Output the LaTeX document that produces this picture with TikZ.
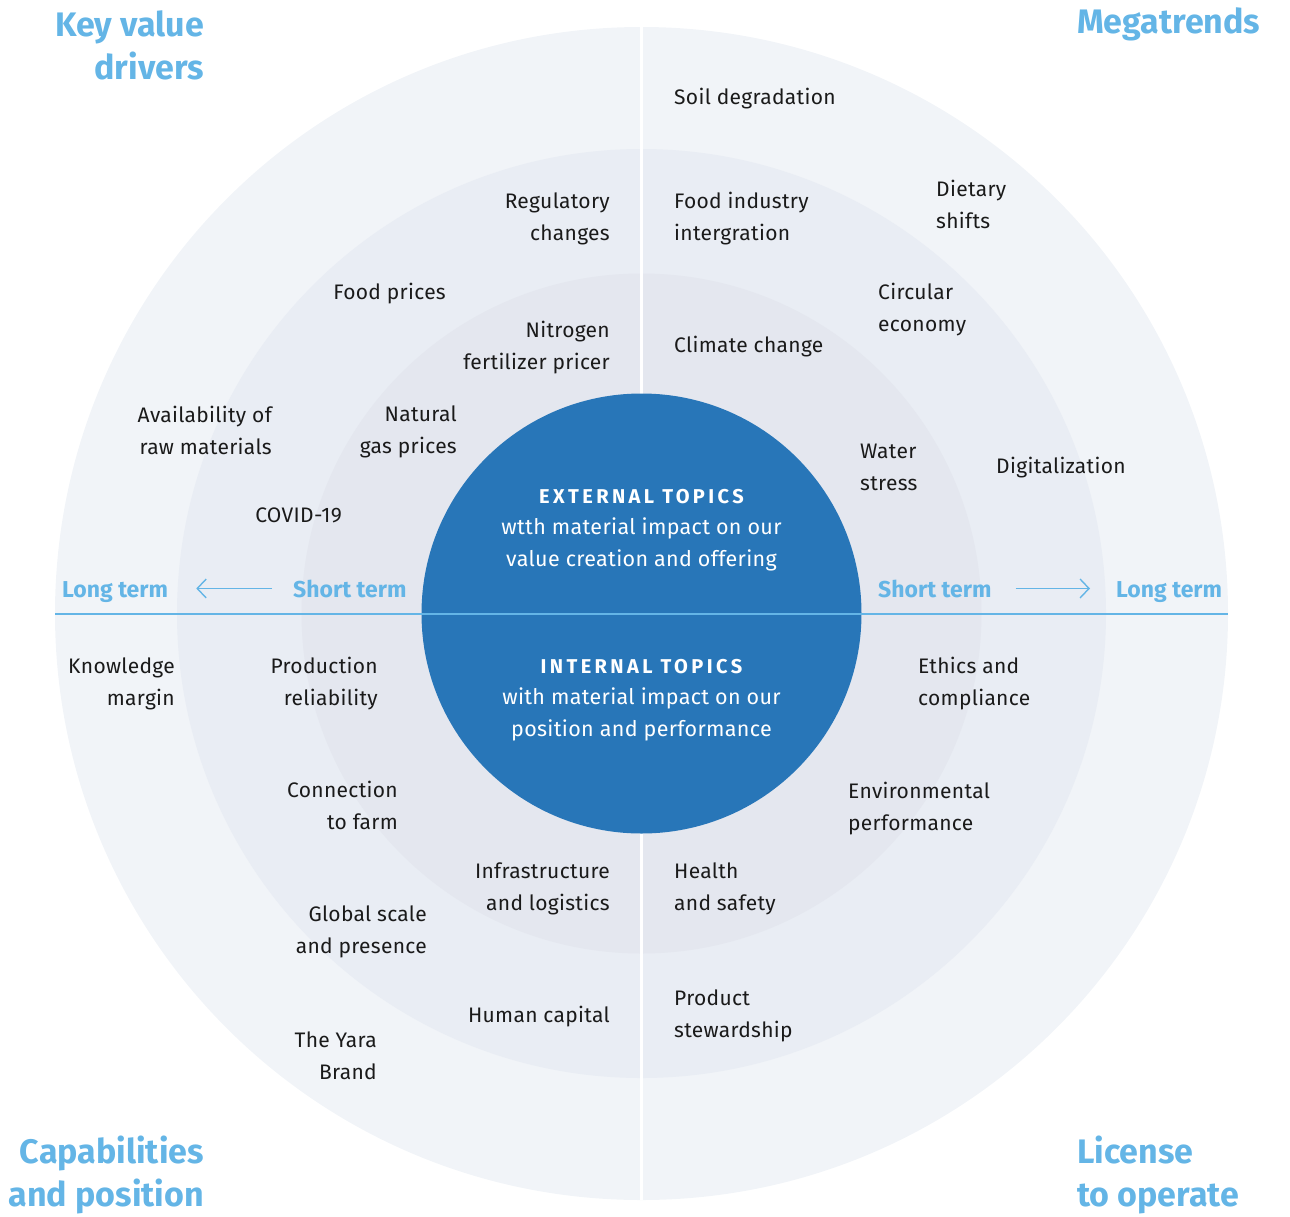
\documentclass[tikz,border=0pt]{standalone}
\usepackage{fontspec}
\setmainfont{Fira Sans}
\usetikzlibrary{positioning,arrows.meta}

\definecolor{ringa}{HTML}{F1F4F8}
\definecolor{ringb}{HTML}{E9EDF4}
\definecolor{ringc}{HTML}{E4E7EF}
\definecolor{core}{HTML}{2876B8}
\definecolor{sky}{HTML}{64B5E6}
\definecolor{ink}{HTML}{1A1A1A}
\newcommand{\topichead}[1]{{\fontsize{20}{22}\selectfont\bfseries\addfontfeature{LetterSpace=17}#1}}

\begin{document}
\begin{tikzpicture}[x=1pt, y=-1pt,
    txt/.style = {inner sep=0pt, yshift=-2pt, font=\fontsize{21}{32}\selectfont\addfontfeature{LetterSpace=1.5}, text=ink},
    rtxt/.style = {txt, anchor=east, align=right},
    ltxt/.style = {txt, anchor=west, align=left},
    head/.style = {inner sep=0pt, font=\fontsize{34}{43}\selectfont\bfseries, text=sky},
    term/.style = {inner sep=0pt, font=\fontsize{23}{24}\selectfont\bfseries, text=sky},
    arr/.style = {-{Straight Barb[length=9pt,width=19pt]}, sky, line width=1.4pt},
    topic/.style = {inner sep=0pt, align=center, text=white, font=\fontsize{21.5}{31.5}\selectfont\addfontfeature{LetterSpace=1.5}}]
    \useasboundingbox (0,0) rectangle (1290,1216);

    % rings
    \fill[ringa] (641.5,613.5) circle (586.5pt);
    \fill[ringb] (641.5,613.5) circle (464.5pt);
    \fill[ringc] (641.5,613.5) circle (340pt);
    \draw[white, line width=2.5pt] (641.5,27) -- (641.5,1200);
    \fill[core] (641.5,613.5) circle (220pt);
    \draw[sky, line width=2pt] (55,613.5) -- (1228,613.5);

    % headings
    \node[head, anchor=east, align=right] (kvd) at (204,45) {Key value\\drivers};
    \node[head, anchor=west, align=left] (mega) at (1077,24) {Megatrends};
    \node[head, anchor=east, align=right] (cap) at (204,1175) {Capabilities\\and position};
    \node[head, anchor=west, align=left] (lic) at (1077,1175) {License\\to operate};

    % time axis
    \node[term, anchor=base west] (ll) at (62,597) {Long term};
    \node[term, anchor=base west] (sl) at (293,597) {Short term};
    \node[term, anchor=base west] (sr) at (878,597) {Short term};
    \node[term, anchor=base west] (lr) at (1116,597) {Long term};
    \draw[arr, shorten <=21pt, shorten >=28pt] (sl.west) -- (sl.west -| ll.east);
    \draw[arr, shorten <=24pt, shorten >=26pt] (sr.east) -- (sr.east -| lr.west);

    % centre
    \node[topic] (ext) at (641.5,530) {\topichead{EXTERNAL TOPICS}\\wtth material impact on our\\value creation and offering};
    \node[topic] (int) at (641.5,700) {\topichead{INTERNAL TOPICS}\\with material impact on our\\position and performance};

    % megatrends
    \node[ltxt] (soil) at (674,97) {Soil degradation};
    \node[ltxt] (fii) at (674,217) {Food industry\\intergration};
    \node[ltxt] (diet) at (936,202) {Dietary\\shifts};
    \node[ltxt] (circ) at (878,308) {Circular\\economy};
    \node[ltxt] (clim) at (674,345) {Climate change};
    \node[ltxt] (water) at (860,465) {Water\\stress};
    \node[ltxt] (digi) at (996,466) {Digitalization};

    % key value drivers
    \node[rtxt] (reg) at (610,217) {Regulatory\\changes};
    \node[rtxt] (foodp) at (446,292) {Food prices};
    \node[rtxt] (nitro) at (610,346) {Nitrogen\\fertilizer pricer};
    \node[rtxt] (avail) at (272,428) {Availability of\\raw materials};
    \node[rtxt] (gas) at (457,430) {Natural\\gas prices};
    \node[rtxt] (covid) at (342,513) {COVID-19};

    % capabilities and position
    \node[rtxt] (know) at (175,682) {Knowledge\\margin};
    \node[rtxt] (prod) at (378,682) {Production\\reliability};
    \node[rtxt] (farm) at (398,803) {Connection\\to farm};
    \node[rtxt] (infra) at (610,887) {Infrastructure\\and logistics};
    \node[rtxt] (glob) at (427,930) {Global scale\\and presence};
    \node[rtxt] (human) at (610,1015) {Human capital};
    \node[rtxt] (brand) at (377,1054) {The Yara\\Brand};

    % license to operate
    \node[ltxt] (ethics) at (918,682) {Ethics and\\compliance};
    \node[ltxt] (env) at (848,807) {Environmental\\performance};
    \node[ltxt] (health) at (674,887) {Health\\and safety};
    \node[ltxt] (stew) at (674,1014) {Product\\stewardship};
\end{tikzpicture}
\end{document}
